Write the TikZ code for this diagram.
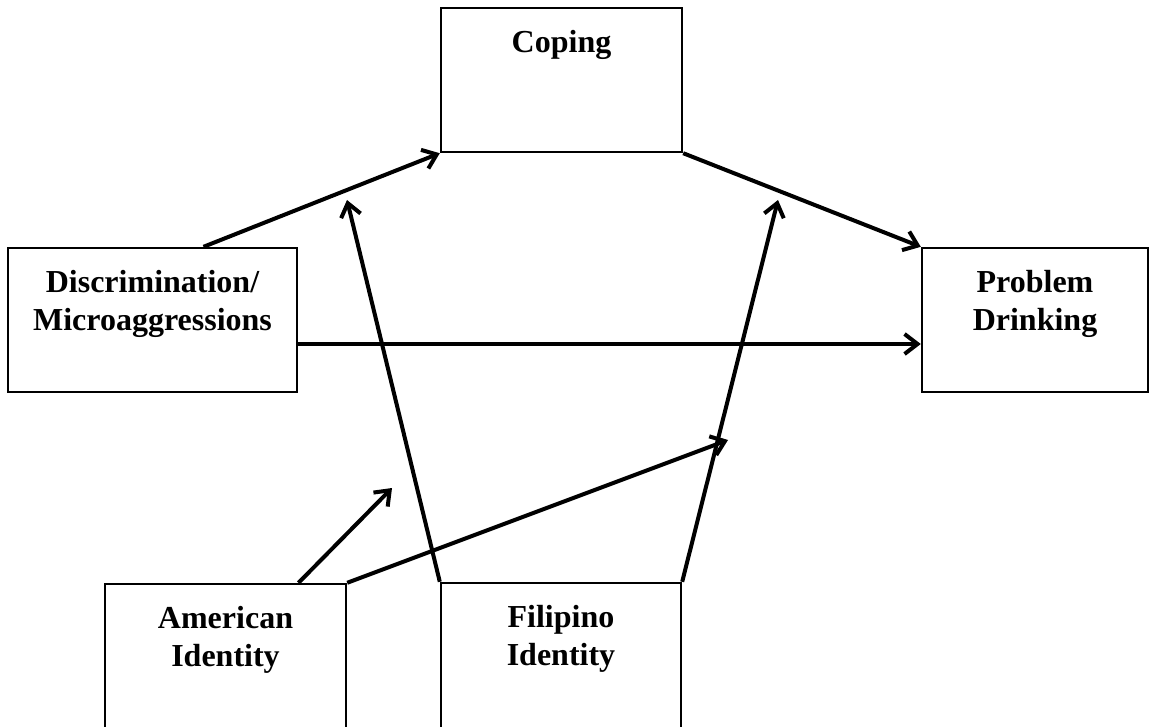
\documentclass[tikz,border=0pt]{standalone}
\usepackage{fontspec}
\setmainfont{Liberation Serif}
\usetikzlibrary{arrows.meta,calc}

\begin{document}
\begin{tikzpicture}[x=0.5pt,y=-0.5pt,
  box/.style={draw,line width=1.2pt,fill=white,inner sep=0pt},
  boxtxt/.style={anchor=north,inner sep=0pt,yshift=-11.5pt,align=center,
                 font=\fontsize{16}{19}\selectfont\bfseries},
  link/.style={line width=2pt,-{Straight Barb[length=6.5pt,width=10pt]}}]
\useasboundingbox (0,0) rectangle (1156,727);

\node[box,minimum width=120.5pt,minimum height=72pt,
      label={[boxtxt]north:Coping}] (cop) at (561.5,80) {};
\node[box,minimum width=144.5pt,minimum height=72pt,
      label={[boxtxt]north:Discrimination/\\Microaggressions}] (disc) at (152.5,320) {};
\node[box,minimum width=113pt,minimum height=72pt,
      label={[boxtxt]north:Problem\\Drinking}] (prob) at (1035,320) {};
% the two identity boxes run off the foot of the page
\node[box,minimum width=120.5pt,minimum height=80pt,
      label={[boxtxt]north:American\\Identity}] (amer) at (225.5,664) {};
\node[box,minimum width=120pt,minimum height=80pt,
      label={[boxtxt]north:Filipino\\Identity}] (fil) at (561,663) {};

% moderation arrows point at the paths, not at boxes
\coordinate (modA) at (347,200);
\coordinate (modB) at (778,200);
\coordinate (modC) at (392,488);
\coordinate (modD) at (728,440);

\draw[link] ($(disc.north west)!0.675!(disc.north east)$) -- (cop.south west);
\draw[link] (cop.south east) -- (prob.north west);
\draw[link] ([yshift=-12pt]disc.east) -- ([yshift=-12pt]prob.west);
\draw[link] (fil.north west) -- (modA);
\draw[link] (fil.north east) -- (modB);
\draw[link] ($(amer.north west)!0.8!(amer.north east)$) -- (modC);
\draw[link] (amer.north east) -- (modD);
\end{tikzpicture}
\end{document}
